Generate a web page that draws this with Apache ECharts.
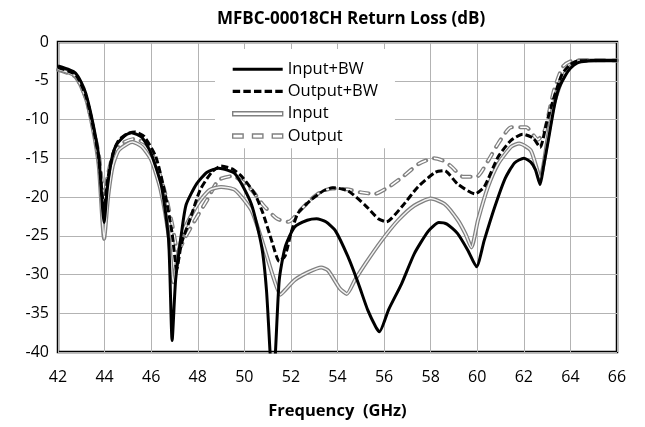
<!DOCTYPE html>
<html>
<head>
<meta charset="utf-8">
<script src="https://cdn.jsdelivr.net/npm/echarts@6/dist/echarts.min.js"></script>
<style>
  html, body { margin: 0; padding: 0; background: #fff; }
  #chart { width: 645px; height: 427px; }
</style>
</head>
<body>
<div id="chart"></div>
<script>
// Return loss (GHz, dB)
const IN_BW_F  = [42, 42.5, 42.75, 43, 43.2, 43.5, 43.75, 43.98, 44.12, 44.3, 44.5, 44.9, 45.15, 45.6, 46.0, 46.45, 46.75, 46.9, 47.05, 47.3, 47.5, 47.95, 48.4, 48.9, 49.6, 50.3, 50.75, 50.95, 51.1, 51.22, 51.34, 51.5, 51.75, 52.15, 52.7, 53.1, 53.5, 53.9, 54.45, 54.9, 55.3, 55.65, 55.8, 56.2, 56.75, 57.3, 57.9, 58.35, 58.7, 59.15, 59.6, 59.97, 60.3, 60.75, 61.2, 61.6, 62.0, 62.3, 62.5, 62.7, 62.85, 63.05, 63.3, 63.5, 63.75, 64.0, 64.3, 64.7, 65.2, 66]
const IN_BW_DB = [-3.1, -3.6, -4.0, -5.2, -6.7, -10.5, -14.8, -23.3, -18.8, -15.2, -13.3, -12.0, -11.7, -12.3, -14.4, -18.7, -25.6, -38.5, -30.7, -24.7, -21.0, -18.3, -16.8, -16.3, -17.0, -20.9, -26.5, -32.0, -39.8, -46.0, -39.8, -30.7, -26.5, -23.9, -23.0, -22.8, -23.2, -24.3, -27.7, -31.2, -34.6, -36.8, -37.4, -34.5, -31.2, -27.3, -24.4, -23.3, -23.5, -24.7, -26.9, -29.0, -25.6, -21.3, -17.6, -15.6, -15.0, -15.5, -16.5, -18.4, -16.0, -12.7, -8.4, -6.0, -4.5, -3.4, -2.7, -2.45, -2.4, -2.4]

const OUT_BW_F  = [42, 42.75, 43.2, 43.5, 43.75, 43.98, 44.12, 44.35, 44.6, 45.0, 45.3, 45.7, 46.2, 46.6, 46.9, 47.1, 47.3, 47.7, 48.1, 48.6, 49.0, 49.5, 49.9, 50.45, 50.8, 51.17, 51.5, 51.75, 52.0, 52.3, 52.85, 53.4, 53.8, 54.45, 55.2, 55.75, 56.1, 56.75, 57.45, 58.2, 58.6, 59.15, 59.9, 60.3, 60.9, 61.45, 61.95, 62.4, 62.7, 62.97, 63.3, 63.65, 64.0, 64.3, 65, 66]
const OUT_BW_DB = [-3.3, -4.2, -7.0, -10.8, -15.0, -21.5, -18.0, -14.5, -12.7, -11.8, -11.6, -12.2, -14.8, -19.6, -24.7, -29.3, -26.0, -22.6, -19.1, -16.8, -16.0, -16.4, -17.4, -19.6, -22.1, -25.6, -28.3, -27.6, -24.7, -22.1, -20.4, -19.2, -18.8, -19.2, -21.1, -22.8, -23.2, -21.3, -18.7, -16.8, -16.6, -18.3, -19.6, -18.7, -14.8, -12.7, -11.9, -12.4, -13.6, -10.5, -7.1, -4.1, -2.9, -2.45, -2.4, -2.4]

const IN_F  = [42, 42.75, 43.2, 43.5, 43.75, 43.98, 44.15, 44.35, 44.6, 45.0, 45.2, 45.6, 46.0, 46.4, 46.75, 46.95, 47.15, 47.4, 48.0, 48.5, 49.0, 49.6, 50.3, 50.8, 51.24, 51.55, 51.75, 52.17, 52.75, 53.3, 53.6, 54.1, 54.4, 54.75, 55.2, 55.9, 56.6, 57.3, 58.0, 58.6, 59.17, 59.5, 59.75, 60.03, 60.46, 60.9, 61.46, 61.8, 62.3, 62.7, 63.03, 63.3, 63.75, 64.3, 65, 66]
const IN_DB = [-3.5, -4.4, -7.3, -11.2, -16.0, -25.4, -20.0, -16.0, -14.0, -13.1, -12.9, -13.5, -15.2, -19.0, -25.0, -31.0, -27.5, -24.3, -20.9, -19.1, -18.7, -19.1, -21.7, -26.0, -30.3, -32.6, -32.0, -30.7, -29.7, -29.1, -29.5, -31.8, -32.5, -30.7, -28.6, -25.6, -23.0, -21.1, -20.2, -20.9, -23.0, -24.8, -26.5, -23.0, -18.7, -15.7, -13.5, -13.1, -14.0, -17.5, -12.3, -7.9, -4.1, -2.5, -2.4, -2.4]

const OUT_F  = [42, 42.75, 43.2, 43.5, 43.75, 43.98, 44.15, 44.4, 44.8, 45.3, 45.8, 46.2, 46.6, 46.9, 47.15, 47.5, 47.96, 48.4, 48.9, 49.5, 50.0, 50.4, 50.8, 51.4, 51.9, 52.4, 52.9, 53.3, 53.8, 54.4, 55.0, 55.6, 56.2, 56.8, 57.5, 58.15, 58.6, 58.9, 59.4, 59.97, 60.47, 60.9, 61.46, 62.1, 62.6, 62.9, 63.1, 63.3, 63.67, 64.0, 64.4, 65, 66]
const OUT_DB = [-3.6, -4.5, -7.2, -11.0, -14.5, -20.0, -17.0, -14.3, -13.0, -12.5, -13.2, -15.5, -19.5, -23.5, -27.0, -25.0, -22.6, -20.4, -17.8, -17.3, -18.2, -19.4, -21.0, -22.8, -23.2, -21.7, -20.2, -19.3, -18.9, -19.0, -19.4, -19.6, -18.7, -17.4, -15.7, -15.0, -15.4, -16.1, -17.4, -17.4, -15.3, -13.1, -11.0, -11.0, -12.6, -11.4, -8.8, -6.2, -3.2, -2.5, -2.35, -2.35, -2.4]

const FONT = 'Open Sans'

const zip = (f, d) => f.map((x, i) => [x, d[i]])

const chart = echarts.init(document.getElementById('chart'))

const line = (name, f, d, lineStyle, z) => ({
  name, type: 'line', data: zip(f, d), symbol: 'none', smooth: 0.2,
  lineStyle, z, silent: true,
})

chart.setOption({
  animation: false,
  title: {
    text: 'MFBC-00018CH Return Loss (dB)',
    left: 212, top: 6,
    textStyle: { fontFamily: FONT, fontSize: 17, fontWeight: 'bold', color: '#000' },
  },
  legend: {
    orient: 'vertical',
    left: 215, top: 49,
    padding: [10, 17, 2, 17],
    backgroundColor: '#fff',
    itemWidth: 50, itemHeight: 14, itemGap: 2,
    textStyle: { fontFamily: FONT, fontSize: 16.5, lineHeight: 20.3, color: '#000' },
    data: [
      { name: 'Input+BW', icon: 'path://M0,0H50V3H0Z',
        itemStyle: { color: '#000', borderWidth: 0 } },
      { name: 'Output+BW', icon: 'path://M0,0H7V3H0Z M10,0H17V3H10Z M20,0H27V3H20Z M30,0H37V3H30Z M40,0H47V3H40Z',
        itemStyle: { color: '#000', borderWidth: 0 } },
      { name: 'Input', icon: 'path://M0,0H50V4H0Z',
        itemStyle: { color: '#fff', borderColor: '#808080', borderWidth: 1.4 } },
      { name: 'Output', icon: 'path://M0,0H10V4H0Z M19,0H29V4H19Z M38,0H48V4H38Z',
        itemStyle: { color: '#fff', borderColor: '#808080', borderWidth: 1.4 } },
    ],
  },
  grid: {
    left: 58, right: 28, top: 42, bottom: 75,
    show: true, borderColor: '#000', borderWidth: 2.5,
  },
  xAxis: {
    type: 'value', min: 42, max: 66, interval: 2,
    name: 'Frequency  (GHz)', nameLocation: 'middle', nameGap: 51,
    nameTextStyle: { fontFamily: FONT, fontSize: 16.5, fontWeight: 'bold', color: '#000' },
    axisLine: { show: false }, axisTick: { show: false },
    axisLabel: { fontFamily: FONT, fontSize: 16, color: '#000', margin: 17 },
    splitLine: { lineStyle: { color: '#b3b3b3', width: 1 } },
  },
  yAxis: {
    type: 'value', min: -40, max: 0, interval: 5,
    axisLine: { show: false }, axisTick: { show: false },
    axisLabel: { fontFamily: FONT, fontSize: 16, color: '#000', margin: 9 },
    splitLine: { lineStyle: { color: '#b3b3b3', width: 1 } },
  },
  series: [
    line('Output', OUT_F, OUT_DB, { color: '#808080', width: 4, type: [9, 8], cap: 'round' }, 2),
    line('Output_inner', OUT_F, OUT_DB, { color: '#fff', width: 1.5, type: [9, 8], cap: 'butt' }, 2),
    line('Input', IN_F, IN_DB, { color: '#808080', width: 4 }, 3),
    line('Input_inner', IN_F, IN_DB, { color: '#f2f2f2', width: 1.5 }, 3),
    line('Output+BW', OUT_BW_F, OUT_BW_DB, { color: '#000', width: 3, type: [7, 3] }, 4),
    line('Input+BW', IN_BW_F, IN_BW_DB, { color: '#000', width: 3 }, 5),
  ],
})
</script>
</body>
</html>
